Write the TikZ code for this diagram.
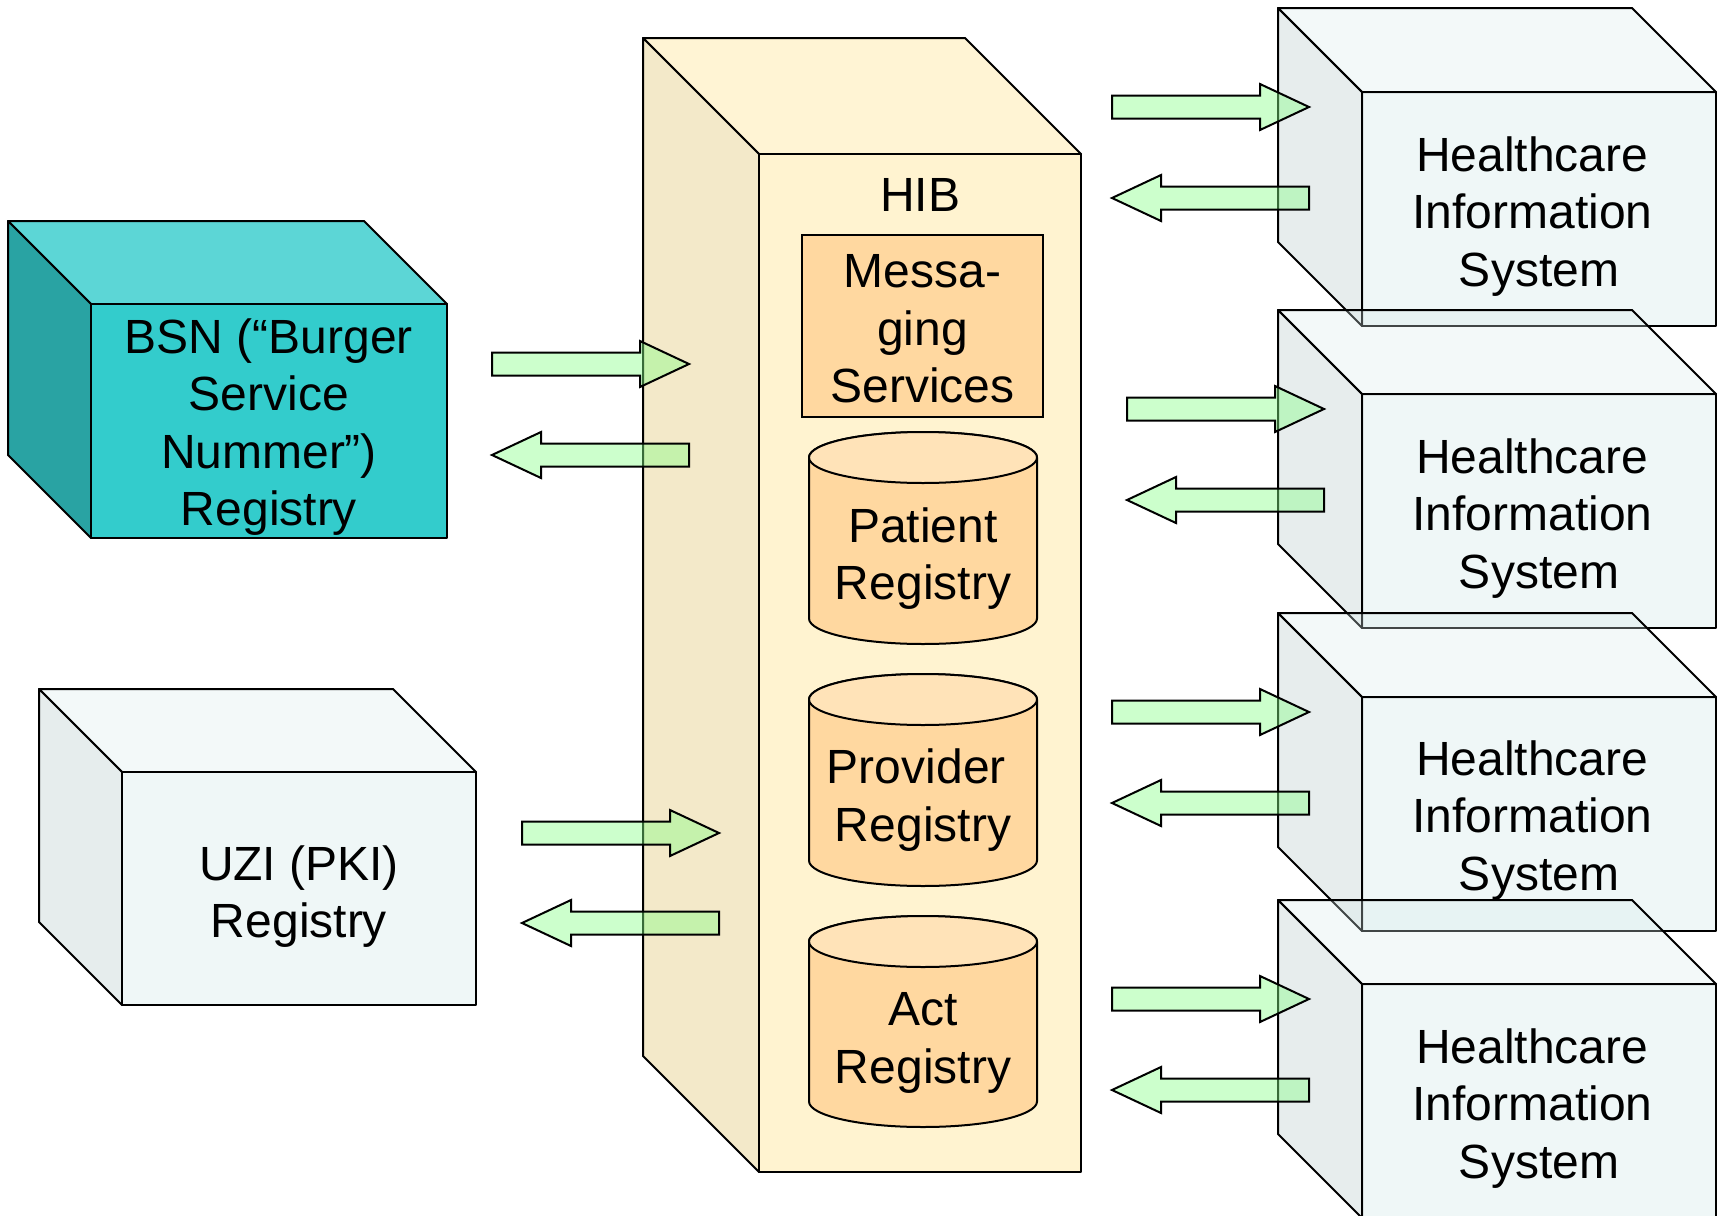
\documentclass[tikz,border=0pt]{standalone}
\usepackage{fontspec}
\setmainfont{Liberation Sans}
\definecolor{bsnfront}{HTML}{33CCCC}
\definecolor{bsnside}{HTML}{29A3A3}
\definecolor{bsntop}{HTML}{5CD6D6}
\definecolor{hibfront}{HTML}{FFF3D0}
\definecolor{hibside}{HTML}{F3E9C9}
\definecolor{hibtop}{HTML}{FFF4D4}
\definecolor{regfront}{HTML}{EFF7F7}
\definecolor{regside}{HTML}{E6EDED}
\definecolor{regtop}{HTML}{F3F9F9}
\definecolor{hisfront}{RGB}{202,228,228}
\definecolor{hisside}{RGB}{175,195,195}
\definecolor{histop}{RGB}{215,235,235}
\definecolor{msgfill}{HTML}{FFD8A0}
\definecolor{cylbody}{HTML}{FFD8A0}
\definecolor{cyltop}{HTML}{FFE3B8}
\definecolor{flowgreen}{RGB}{134,255,134}
% front top-left x, y, width, height, depth, front, side, top
\newcommand{\boxcube}[8]{%
\filldraw[faceline,fill=#8] (#1,#2) -- (#1-#5,#2-#5) -- (#1+#3-#5,#2-#5) -- (#1+#3,#2) -- cycle;
\filldraw[faceline,fill=#7] (#1,#2) -- (#1-#5,#2-#5) -- (#1-#5,#2+#4-#5) -- (#1,#2+#4) -- cycle;
\filldraw[faceline,fill=#6] (#1,#2) rectangle (#1+#3,#2+#4);}
% centre x, top y, bottom y
\newcommand{\dbcyl}[3]{%
\filldraw[faceline,fill=cylbody] (#1-114,#2+25.5) -- (#1-114,#3-25.5) arc[start angle=180,end angle=360,x radius=114pt,y radius=25.5pt] -- (#1+114,#2+25.5) arc[start angle=0,end angle=180,x radius=114pt,y radius=25.5pt] -- cycle;
\filldraw[faceline,fill=cyltop] (#1,#2+25.5) ellipse[x radius=114pt,y radius=25.5pt];}
% tail x, tip x, y
\newcommand{\rflow}[3]{%
\filldraw[flow] (#1,#3-11.5) -- (#2-49,#3-11.5) -- (#2-49,#3-23) -- (#2,#3) -- (#2-49,#3+23) -- (#2-49,#3+11.5) -- (#1,#3+11.5) -- cycle;}
% tip x, tail x, y
\newcommand{\lflow}[3]{%
\filldraw[flow] (#2,#3-11.5) -- (#1+49,#3-11.5) -- (#1+49,#3-23) -- (#1,#3) -- (#1+49,#3+23) -- (#1+49,#3+11.5) -- (#2,#3+11.5) -- cycle;}
\newcommand{\tsp}{\kern0.278em}
\begin{document}
\begin{tikzpicture}[x=1pt,y=-1pt,
  faceline/.style={draw=black,line width=2pt,line join=round},
  flow/.style={draw=black,line width=2pt,fill=flowgreen,fill opacity=0.42},
  boxtext/.style={font=\fontsize{48}{57.5}\selectfont,align=center,inner sep=0pt}]
\useasboundingbox (0,0) rectangle (1725,1216);
\boxcube{91}{304}{356}{234}{83}{bsnfront}{bsnside}{bsntop}
\node[boxtext] (bsn) at (269,427) {BSN (“Burger\\Service\\Nummer”)\\Registry};
\boxcube{122}{772}{354}{233}{83}{regfront}{regside}{regtop}
\node[boxtext] (uzi) at (299,896.5) {UZI (PKI)\\Registry};
\boxcube{759}{154}{322}{1018}{116}{hibfront}{hibside}{hibtop}
\node[boxtext] (hib) at (920,195) {HIB};
\node[boxtext,draw=black,line width=2pt,fill=msgfill,minimum width=241pt,minimum height=182pt] (msg) at (922.5,326) {};
\node[boxtext] (msgtext) at (922.5,329) {Messa-\\ging\\Services};
\dbcyl{923}{432}{644}
\node[boxtext] (patreg) at (923,558.5) {Patient\\Registry};
\dbcyl{923}{674}{886}
\node[boxtext] (provreg) at (923,800) {Provider\tsp\\Registry};
\dbcyl{923}{916}{1127}
\node[boxtext] (actreg) at (923,1043) {Act\\Registry};
\begin{scope}[fill opacity=0.3]
\boxcube{1362}{92}{354}{234}{84}{hisfront}{hisside}{histop}
\boxcube{1362}{394}{354}{234}{84}{hisfront}{hisside}{histop}
\boxcube{1362}{697}{354}{234}{84}{hisfront}{hisside}{histop}
\boxcube{1362}{984}{354}{234}{84}{hisfront}{hisside}{histop}
\end{scope}
\node[boxtext] (his1) at (1539,216.5) {Healthcare\tsp\\Information\tsp\\System};
\node[boxtext] (his2) at (1539,518.5) {Healthcare\tsp\\Information\tsp\\System};
\node[boxtext] (his3) at (1539,820.5) {Healthcare\tsp\\Information\tsp\\System};
\node[boxtext] (his4) at (1539,1108.5) {Healthcare\tsp\\Information\tsp\\System};
\rflow{492}{689}{364}
\lflow{492}{689}{455}
\rflow{522}{719}{833}
\lflow{522}{719}{923}
\rflow{1112}{1309}{107}
\lflow{1112}{1309}{198}
\rflow{1127}{1324}{409}
\lflow{1127}{1324}{500}
\rflow{1112}{1309}{712}
\lflow{1112}{1309}{803}
\rflow{1112}{1309}{999}
\lflow{1112}{1309}{1090}
\end{tikzpicture}
\end{document}
